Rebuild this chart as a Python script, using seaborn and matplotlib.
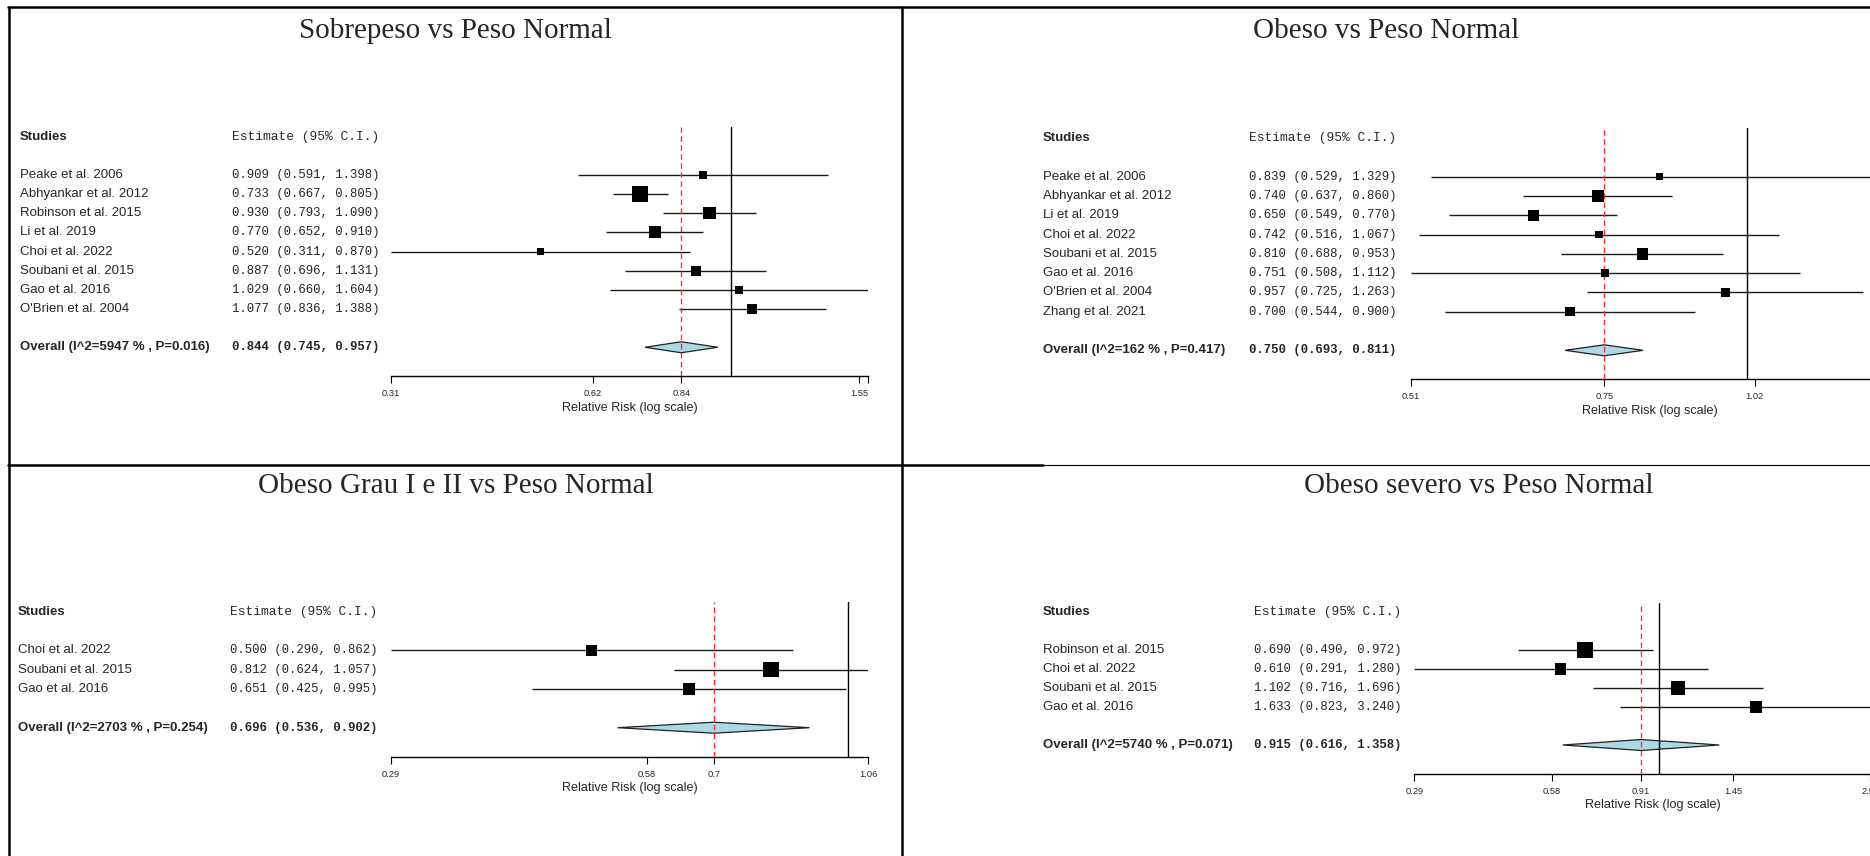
import numpy as np
import pandas as pd
import matplotlib
matplotlib.use("Agg")
import matplotlib.pyplot as plt
import seaborn as sns
from matplotlib.lines import Line2D
from matplotlib.transforms import blended_transform_factory

# ---- data ----
p1_title = "Sobrepeso vs Peso Normal"
p1_studies = ["Peake et al. 2006", "Abhyankar et al. 2012", "Robinson et al. 2015", "Li et al. 2019",
              "Choi et al. 2022", "Soubani et al. 2015", "Gao et al. 2016", "O'Brien et al. 2004"]
p1_est = [0.909, 0.733, 0.930, 0.770, 0.520, 0.887, 1.029, 1.077]
p1_lo = [0.591, 0.667, 0.793, 0.652, 0.311, 0.696, 0.660, 0.836]
p1_hi = [1.398, 0.805, 1.090, 0.910, 0.870, 1.131, 1.604, 1.388]
p1_overall = [0.844, 0.745, 0.957]
p1_i2, p1_p = 5947, "0.016"
p1_ticks = [0.311, 0.622, 0.844, 1.555, 1.604]
p1_ticklabels = ["0.31", "0.62", "0.84", "1.55", ""]

p2_title = "Obeso vs Peso Normal"
p2_studies = ["Peake et al. 2006", "Abhyankar et al. 2012", "Li et al. 2019", "Choi et al. 2022",
              "Soubani et al. 2015", "Gao et al. 2016", "O'Brien et al. 2004", "Zhang et al. 2021"]
p2_est = [0.839, 0.740, 0.650, 0.742, 0.810, 0.751, 0.957, 0.700]
p2_lo = [0.529, 0.637, 0.549, 0.516, 0.688, 0.508, 0.725, 0.544]
p2_hi = [1.329, 0.860, 0.770, 1.067, 0.953, 1.112, 1.263, 0.900]
p2_overall = [0.750, 0.693, 0.811]
p2_i2, p2_p = 162, "0.417"
p2_ticks = [0.508, 0.75, 1.016, 1.329]
p2_ticklabels = ["0.51", "0.75", "1.02", ""]  # last label falls outside the picture

p3_title = "Obeso Grau I e II vs Peso Normal"
p3_studies = ["Choi et al. 2022", "Soubani et al. 2015", "Gao et al. 2016"]
p3_est = [0.500, 0.812, 0.651]
p3_lo = [0.290, 0.624, 0.425]
p3_hi = [0.862, 1.057, 0.995]
p3_overall = [0.696, 0.536, 0.902]
p3_i2, p3_p = 2703, "0.254"
p3_ticks = [0.290, 0.580, 0.696, 1.057]
p3_ticklabels = ["0.29", "0.58", "0.7", "1.06"]

p4_title = "Obeso severo vs Peso Normal"
p4_studies = ["Robinson et al. 2015", "Choi et al. 2022", "Soubani et al. 2015", "Gao et al. 2016"]
p4_est = [0.690, 0.610, 1.102, 1.633]
p4_lo = [0.490, 0.291, 0.716, 0.823]
p4_hi = [0.972, 1.280, 1.696, 3.240]
p4_overall = [0.915, 0.616, 1.358]
p4_i2, p4_p = 5740, "0.071"
p4_ticks = [0.291, 0.582, 0.915, 1.455, 2.91, 3.24]
p4_ticklabels = ["0.29", "0.58", "0.91", "1.45", "2.91", ""]

# ---- layout (pixels) ----
W, H, DPI = 1870, 856, 100
AX_W = 477

sns.set_theme(style="white")
plt.rcParams["font.family"] = ["Liberation Sans", "DejaVu Sans"]
SANS = ["Liberation Sans", "DejaVu Sans"]
MONO = ["Liberation Mono", "DejaVu Sans Mono"]
SERIF = ["Liberation Serif", "DejaVu Serif"]

panels = [
    dict(title=p1_title, studies=p1_studies, est=p1_est, lo=p1_lo, hi=p1_hi, overall=p1_overall,
         i2=p1_i2, p=p1_p, ticks=p1_ticks, ticklabels=p1_ticklabels,
         ax_left=391, y0=175, step=19.14, sx=20, ex=379, tx=455, ty=38, box=16),
    dict(title=p2_title, studies=p2_studies, est=p2_est, lo=p2_lo, hi=p2_hi, overall=p2_overall,
         i2=p2_i2, p=p2_p, ticks=p2_ticks, ticklabels=p2_ticklabels,
         ax_left=1411, y0=176.7, step=19.29, sx=1043, ex=1396.5, tx=1386.5, ty=37.5, box=12),
    dict(title=p3_title, studies=p3_studies, est=p3_est, lo=p3_lo, hi=p3_hi, overall=p3_overall,
         i2=p3_i2, p=p3_p, ticks=p3_ticks, ticklabels=p3_ticklabels,
         ax_left=391, y0=650.3, step=19.35, sx=18, ex=377.7, tx=455.6, ty=493, box=15.6),
    dict(title=p4_title, studies=p4_studies, est=p4_est, lo=p4_lo, hi=p4_hi, overall=p4_overall,
         i2=p4_i2, p=p4_p, ticks=p4_ticks, ticklabels=p4_ticklabels,
         ax_left=1414.4, y0=650, step=19.0, sx=1043, ex=1401.2, tx=1478.6, ty=493, box=16.2),
]

fig = plt.figure(figsize=(W / DPI, H / DPI), dpi=DPI)
fig.patch.set_facecolor("white")


def draw_forest(pan):
    est = np.array(pan["est"])
    lo = np.array(pan["lo"])
    hi = np.array(pan["hi"])
    n = len(est)
    step = pan["step"]
    top = pan["y0"] - 2.5 * step
    bottom = pan["y0"] + (n + 2.5) * step
    ax = fig.add_axes([pan["ax_left"] / W, 1 - bottom / H, AX_W / W, (bottom - top) / H])
    ax.set_facecolor("none")
    rows = np.arange(n)

    ax.hlines(rows, lo, hi, color="#1a1a1a", lw=1.0, zorder=2)

    # box side grows with precision of each study
    se = (np.log(hi) - np.log(lo)) / (2 * 1.96)
    side = pan["box"] * np.sqrt(se.min() / se)
    area = (side * 72 / DPI) ** 2
    df = pd.DataFrame({"est": est, "row": rows, "area": area})
    sns.scatterplot(data=df, x="est", y="row", size="area",
                    sizes=(area.min(), area.max()), size_norm=(area.min(), area.max()),
                    marker="s", color="black", linewidth=0, legend=False, ax=ax, zorder=5)

    oest, olo, ohi = pan["overall"]
    yov = n + 1
    hh = 5.5 / step
    ax.fill([olo, oest, ohi, oest], [yov, yov - hh, yov, yov + hh],
            facecolor="#add8e6", edgecolor="#222222", lw=0.9, zorder=3)

    ax.axvline(1, color="black", lw=1.0, zorder=4)
    ax.axvline(oest, color="#ff3030", lw=1.0, ls=(0, (4, 2.5)), zorder=4)

    ax.set_xscale("log")
    ax.set_xlim(lo.min(), hi.max())
    ax.set_ylim(n + 2.5, -2.5)
    ax.set_xticks(pan["ticks"])
    ax.set_xticklabels(pan["ticklabels"])
    ax.xaxis.set_minor_locator(matplotlib.ticker.NullLocator())
    ax.set_yticks([])
    ax.set_xlabel("")
    ax.set_ylabel("")
    for s in ["left", "right", "top"]:
        ax.spines[s].set_visible(False)
    ax.spines["bottom"].set_color("black")
    ax.spines["bottom"].set_linewidth(1.0)
    ax.tick_params(axis="x", direction="out", length=5, width=0.8, color="black",
                   labelsize=6.7, pad=4.5, bottom=True)

    tr = blended_transform_factory(fig.transFigure, ax.transData)
    ax.text(pan["sx"] / W, -2, "Studies", transform=tr, ha="left", va="center",
            family=SANS, fontsize=9.5, fontweight="bold")
    ax.text(pan["ex"] / W, -2, "Estimate (95% C.I.)", transform=tr, ha="right", va="center",
            family=MONO, fontsize=9.3)
    for i in range(n):
        ax.text(pan["sx"] / W, i, pan["studies"][i], transform=tr, ha="left", va="center",
                family=SANS, fontsize=9.5)
        ax.text(pan["ex"] / W, i, f"{est[i]:.3f} ({lo[i]:.3f}, {hi[i]:.3f})", transform=tr,
                ha="right", va="center", family=MONO, fontsize=8.9)
    ax.text(pan["sx"] / W, yov, f"Overall (I^2={pan['i2']} % , P={pan['p']})", transform=tr,
            ha="left", va="center", family=SANS, fontsize=9.5, fontweight="bold")
    ax.text(pan["ex"] / W, yov, f"{oest:.3f} ({olo:.3f}, {ohi:.3f})", transform=tr,
            ha="right", va="center", family=MONO, fontsize=8.9, fontweight="bold")

    fig.text((pan["ax_left"] + AX_W / 2) / W, 1 - (bottom + 31.7) / H, "Relative Risk (log scale)",
             ha="center", va="center", family=SANS, fontsize=9.1)
    fig.text(pan["tx"] / W, 1 - pan["ty"] / H, pan["title"], ha="center", va="baseline",
             family=SERIF, fontsize=21)


for pan in panels:
    draw_forest(pan)


# table borders around the pasted plots
def border(x0, y0, x1, y1, lw):
    fig.add_artist(Line2D([x0 / W, x1 / W], [1 - y0 / H, 1 - y1 / H],
                          transform=fig.transFigure, color="black", lw=lw))


border(8, 7.3, 1870, 7.3, 1.8)
border(9, 6.5, 9, 856, 1.8)
border(901.7, 6.5, 901.7, 856, 1.8)
border(8, 464.7, 1043, 464.7, 1.8)
border(1043, 465, 1870, 465, 0.8)

fig.savefig("out.png", dpi=DPI, facecolor="white")
